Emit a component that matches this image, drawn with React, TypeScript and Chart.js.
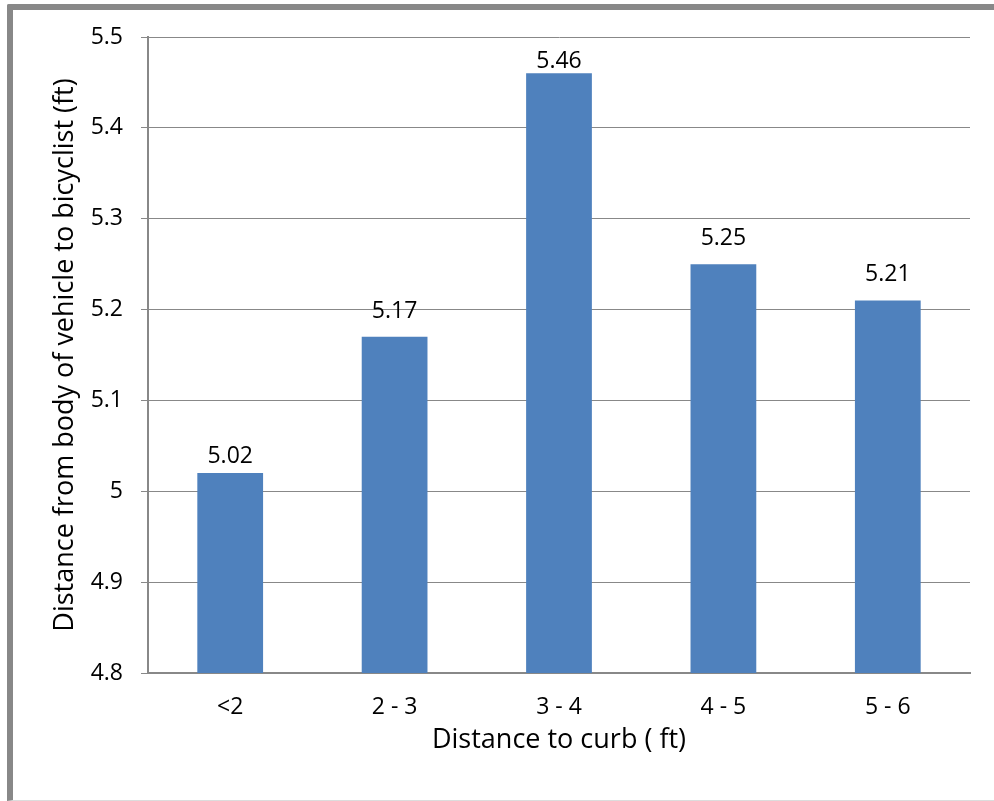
import React, { useEffect, useRef } from "react";
import { Chart, registerables } from "chart.js";

Chart.register(...registerables);

// Clearance data: bicycle distance to curb vs. vehicle passing distance
const curbBands: string[] = ["<2", "2 - 3", "3 - 4", "4 - 5", "5 - 6"];
const passingDistance: number[] = [5.02, 5.17, 5.46, 5.25, 5.21];
const yTickValues: number[] = [4.8, 4.9, 5.0, 5.1, 5.2, 5.3, 5.4, 5.5];

const FONT = "'Open Sans', 'DejaVu Sans', sans-serif";
const GRAY = "#888888";
const BAR = "#4F81BD";

// Value labels drawn above each bar
const valueLabels = {
  id: "valueLabels",
  afterDatasetsDraw(chart: any, _args: any, opts: any) {
    const { ctx } = chart;
    const meta = chart.getDatasetMeta(0);
    const values = chart.data.datasets[0].data as number[];
    const lifts: number[] = opts.lifts || [];
    ctx.save();
    ctx.font = `23px ${FONT}`;
    ctx.fillStyle = "#000";
    ctx.textAlign = "center";
    ctx.textBaseline = "alphabetic";
    meta.data.forEach((bar: any, i: number) => {
      const lift = lifts[i] ?? 12;
      ctx.fillText(values[i].toFixed(2), bar.x, bar.y - lift);
    });
    ctx.restore();
  },
};

export default function App() {
  const canvasRef = useRef<HTMLCanvasElement | null>(null);

  useEffect(() => {
    if (!canvasRef.current) return;
    const chart = new Chart(canvasRef.current, {
      type: "bar",
      data: {
        labels: curbBands,
        datasets: [
          {
            data: passingDistance,
            backgroundColor: BAR,
            borderWidth: 0,
            barPercentage: 0.4,
            categoryPercentage: 1,
          },
        ],
      },
      plugins: [valueLabels],
      options: {
        animation: false,
        responsive: false,
        devicePixelRatio: 1,
        layout: { padding: { left: 0, top: 37, right: 24, bottom: 0 } },
        plugins: {
          legend: { display: false },
          tooltip: { enabled: false },
          valueLabels: { lifts: [10, 19, 5, 19, 19] },
        } as any,
        scales: {
          x: {
            grid: { display: false, drawTicks: false },
            border: { display: true, color: GRAY, width: 2 },
            ticks: {
              color: "#000",
              padding: 21,
              font: { family: FONT, size: 23 },
            },
            title: {
              display: true,
              text: "Distance to curb ( ft)",
              color: "#000",
              font: { family: FONT, size: 27 },
              padding: { top: 0, bottom: 44 },
            },
            afterFit(scale: any) {
              scale.height = 128;
            },
          },
          y: {
            min: 4.8,
            max: 5.5,
            afterBuildTicks(scale: any) {
              scale.ticks = yTickValues.map((v) => ({ value: v }));
            },
            ticks: {
              color: "#000",
              padding: 18,
              font: { family: FONT, size: 23 },
              callback: (v: any) => String(Number(Number(v).toFixed(1))),
            },
            grid: { color: GRAY, lineWidth: 1, drawTicks: true, tickLength: 7 },
            border: { display: true, color: GRAY, width: 2 },
            title: {
              display: true,
              text: "Distance from body of vehicle to bicyclist (ft)",
              color: "#000",
              font: { family: FONT, size: 27 },
              padding: { top: 49, bottom: 0 },
            },
            afterFit(scale: any) {
              scale.width = 148;
            },
          },
        },
      },
    });
    return () => chart.destroy();
  }, []);

  return (
    <div
      style={{
        position: "absolute",
        left: 0,
        top: 0,
        width: 994,
        height: 801,
        background: "#fff",
        overflow: "hidden",
      }}
    >
      <div
        style={{
          position: "absolute",
          left: 7,
          top: 4,
          width: 994,
          height: 790,
          borderTop: "6px solid #888",
          borderLeft: "6px solid #888",
          borderBottom: "1px solid #dcdcdc",
          borderTopLeftRadius: 2,
        }}
      />
      <canvas
        ref={canvasRef}
        width={994}
        height={801}
        style={{ position: "absolute", left: 0, top: 0, width: 994, height: 801 }}
      />
    </div>
  );
}
